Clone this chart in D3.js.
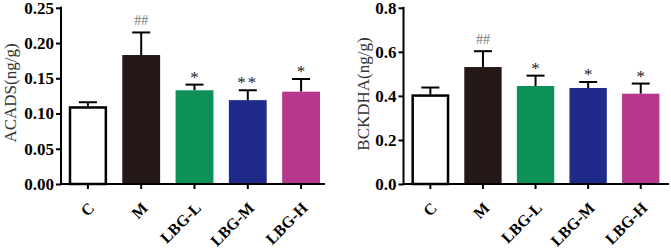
<!DOCTYPE html>
<html>
<head>
<meta charset="utf-8">
<script src="https://cdn.jsdelivr.net/npm/d3@7"></script>
<style>
  body { margin: 0; background: #fff; }
  svg { display: block; font-family: "Liberation Serif", "Times New Roman", serif; }
</style>
</head>
<body>
<svg width="671" height="249"></svg>
<script>
const GROUPS = ['C', 'M', 'LBG-L', 'LBG-M', 'LBG-H'];
const COLORS = ['#ffffff', '#231816', '#0e9157', '#1f2a8a', '#b6378b'];

const ACADS_MEAN = [0.110, 0.183, 0.133, 0.119, 0.131];
const ACADS_ERR = [0.006, 0.032, 0.008, 0.014, 0.018];
const ACADS_MARK = ['', '##', '*', '**', '*'];
const ACADS_TICKS = [0, 0.05, 0.10, 0.15, 0.20, 0.25];

const BCK_MEAN = [0.406, 0.531, 0.445, 0.436, 0.410];
const BCK_ERR = [0.032, 0.072, 0.047, 0.027, 0.046];
const BCK_MARK = ['', '##', '*', '*', '*'];
const BCK_TICKS = [0, 0.2, 0.4, 0.6, 0.8];

const svg = d3.select("svg");
const TOP = 7.8, BOTTOM = 184;

function drawPanel(opt) {
    const g = svg.append("g");
    const x = d3.scaleBand()
        .domain(GROUPS)
        .range([opt.x0, opt.x1])
        .paddingInner(0.29)
        .paddingOuter(0.15);
    const y = d3.scaleLinear()
        .domain([0, opt.max])
        .range([BOTTOM, TOP]);

    const rows = GROUPS.map((c, i) => ({ c, i, v: opt.mean[i], e: opt.err[i], m: opt.mark[i] }));
    const cx = d => x(d.c) + x.bandwidth() / 2;

    // error bars (upper half only shows, bar covers the rest)
    const eb = g.selectAll(".err").data(rows).enter().append("g").attr("class", "err")
        .attr("stroke", "#000").attr("stroke-width", 2);
    eb.append("line")
        .attr("x1", cx).attr("x2", cx)
        .attr("y1", d => y(d.v))
        .attr("y2", d => y(d.v + d.e));
    eb.append("line")
        .attr("x1", d => cx(d) - 9)
        .attr("x2", d => cx(d) + 9)
        .attr("y1", d => y(d.v + d.e))
        .attr("y2", d => y(d.v + d.e));

    g.selectAll(".bar").data(rows).enter().append("rect")
        .attr("class", "bar")
        .attr("x", d => x(d.c) + (d.i === 0 ? 1 : 0))
        .attr("width", d => x.bandwidth() - (d.i === 0 ? 2 : 0))
        .attr("y", d => y(d.v) + (d.i === 0 ? 1 : 0))
        .attr("height", d => BOTTOM - y(d.v) - (d.i === 0 ? 1 : 0))
        .attr("fill", d => COLORS[d.i])
        .attr("stroke", d => d.i === 0 ? "#000" : "none")
        .attr("stroke-width", 2.5);

    // significance marks
    g.selectAll(".mark").data(rows.filter(d => d.m)).enter().append("text")
        .attr("class", "mark")
        .attr("x", cx)
        .attr("y", d => y(d.v + d.e) - (d.m === '##' ? 7 : 2))
        .attr("text-anchor", "middle")
        .attr("fill", d => d.m === '##' ? "#777" : "#222")
        .attr("font-size", d => d.m === '##' ? 14 : 17)
        .attr("letter-spacing", d => d.m === '**' ? 2 : 0)
        .text(d => d.m);

    // y axis
    const ya = g.append("g")
        .attr("transform", `translate(${opt.axisX},0)`)
        .call(d3.axisLeft(y).tickValues(opt.ticks).tickFormat(d3.format(opt.fmt)).tickSize(5).tickSizeOuter(0));
    ya.select(".domain").attr("stroke-width", 2).attr("d", `M0,${TOP - 1}V${BOTTOM + 1}`);
    ya.selectAll(".tick line").attr("stroke-width", 2);
    ya.selectAll(".tick text")
        .attr("font-size", 17).attr("font-weight", "bold")
        .attr("font-family", "Liberation Serif").attr("fill", "#000").attr("x", -7);

    // x axis
    const xa = g.append("g")
        .attr("transform", `translate(0,${BOTTOM})`)
        .call(d3.axisBottom(x).tickSize(5).tickSizeOuter(0));
    xa.select(".domain").attr("stroke-width", 2).attr("d", `M${opt.axisX - 1},0H${opt.axisEnd}`);
    xa.selectAll(".tick line").attr("stroke-width", 2);
    xa.selectAll(".tick text")
        .attr("font-size", 16).attr("font-weight", "bold")
        .attr("font-family", "Liberation Serif").attr("fill", "#000")
        .attr("text-anchor", "end")
        .attr("y", 0).attr("dy", 0)
        .attr("transform", "translate(7.5,25) rotate(-45)");

    svg.append("text")
        .attr("transform", `translate(${opt.labelX},${opt.labelY}) rotate(-90)`)
        .attr("text-anchor", "middle")
        .attr("font-size", 17)
        .attr("fill", "#333")
        .text(opt.label);
}

drawPanel({ x0: 61, x1: 328, axisX: 61, axisEnd: 325, max: 0.25,
    mean: ACADS_MEAN, err: ACADS_ERR, mark: ACADS_MARK, ticks: ACADS_TICKS, fmt: ".2f",
    label: "ACADS(ng/g)", labelX: 16, labelY: 93 });

drawPanel({ x0: 403.8, x1: 667.3, axisX: 403.5, axisEnd: 669, max: 0.8,
    mean: BCK_MEAN, err: BCK_ERR, mark: BCK_MARK, ticks: BCK_TICKS, fmt: ".1f",
    label: "BCKDHA(ng/g)", labelX: 369, labelY: 94 });
</script>
</body>
</html>
